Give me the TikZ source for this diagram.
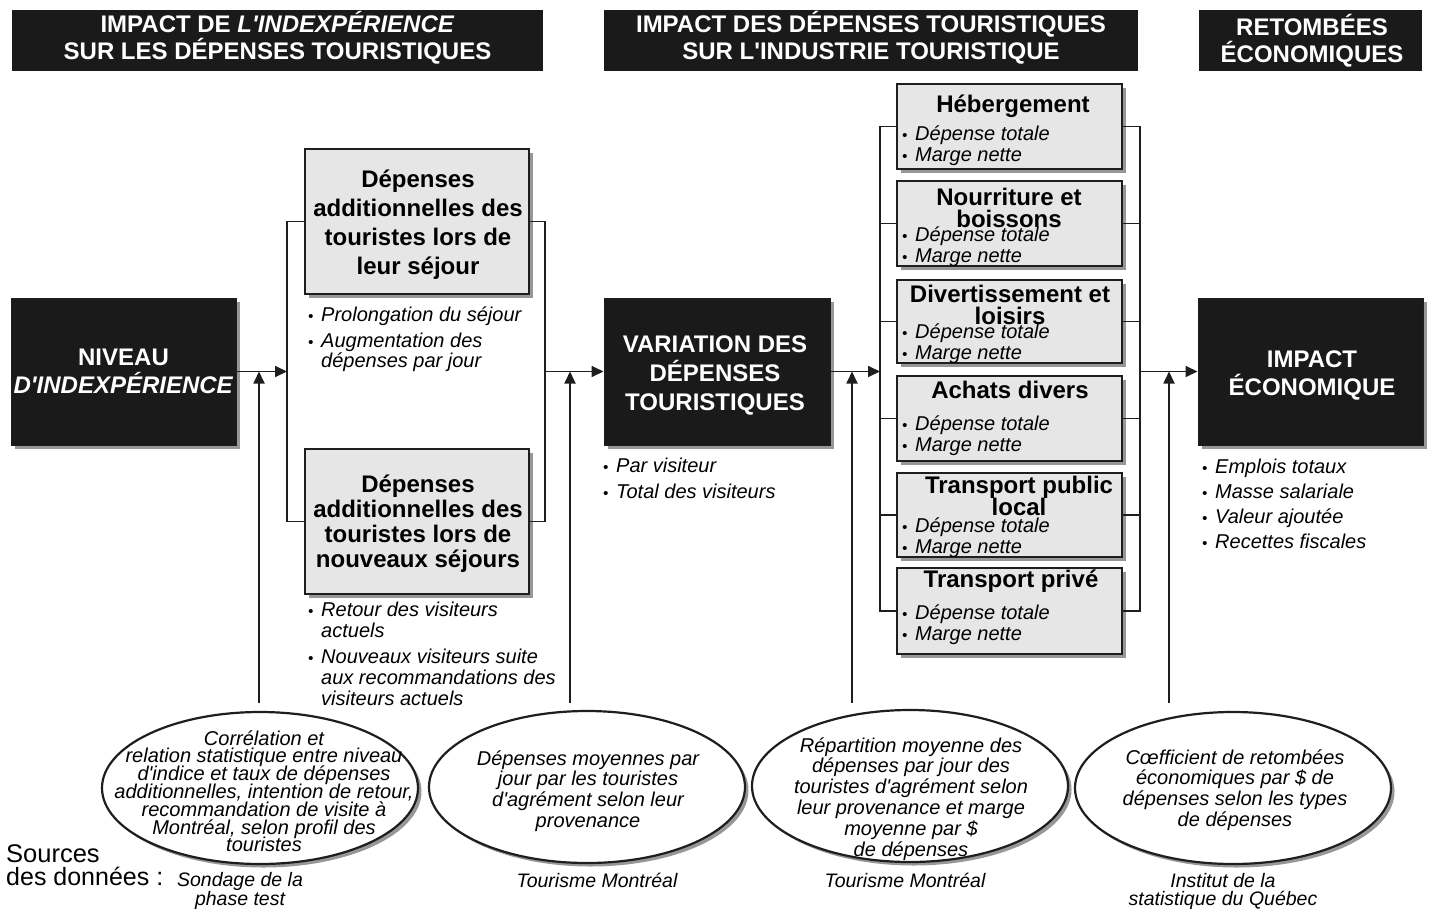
\documentclass[tikz,border=0pt]{standalone}
\usepackage{fontspec}
\setmainfont{Liberation Sans}[Ligatures=TeXOff]
\usetikzlibrary{arrows.meta,shapes.geometric,shadows}
\definecolor{boxblack}{HTML}{1A1A1A}
\definecolor{boxgrey}{HTML}{E6E6E6}
\definecolor{linec}{HTML}{1E1E1E}
\newcommand{\mkc}[1]{\vtop{\lineskiplimit=-100pt\relax\lineskip=0pt\relax\let\\\cr\halign{\hfil##\hfil\cr#1\crcr}}}
\newcommand{\mkl}[1]{\vtop{\lineskiplimit=-100pt\relax\lineskip=0pt\relax\let\\\cr\halign{##\hfil&##\hfil\cr#1\crcr}}}
\newcommand{\blt}{\makebox[13pt][l]{\fontsize{15}{15}\selectfont\textbullet}}
\tikzset{
  tb/.style={font=\fontsize{24}{#1}\selectfont\bfseries},
  th/.style={font=\fontsize{24}{#1}\selectfont\bfseries},
  ti/.style={font=\fontsize{20}{#1}\selectfont\itshape},
  ts/.style={font=\fontsize{19.5}{#1}\selectfont\itshape},
  shad/.style={drop shadow={shadow xshift=3.5pt,shadow yshift=-3.5pt,fill=black!45,opacity=0.9}},
  hdr/.style={fill=boxblack,draw=none,inner sep=0pt},
  blk/.style={fill=boxblack,draw=linec,line width=1pt,inner sep=0pt,shad},
  gry/.style={fill=boxgrey,draw=linec,line width=1.8pt,inner sep=0pt,shad},
  ell/.style={ellipse,fill=white,draw=linec,line width=2.2pt,inner sep=0pt,shad,minimum width=316pt,minimum height=152pt},
  wt/.style={text=white,inner sep=0pt},
  tx/.style={text=black,inner sep=0pt},
  conn/.style={draw=linec,line width=1.8pt},
  arr/.style={conn,-{Triangle[length=12pt,width=11pt]}}
}
\begin{document}
\begin{tikzpicture}[x=1pt,y=-1pt]
\useasboundingbox (0,0) rectangle (1431,910);
% headers
\node[hdr,minimum width=531pt,minimum height=61pt] (h1) at (277.5,40.5) {};
\node[hdr,minimum width=534pt,minimum height=61pt] (h2) at (871,40.5) {};
\node[hdr,minimum width=223pt,minimum height=61pt] (h3) at (1310.5,40.5) {};
\node[wt,th=27.5,anchor=base] (h1t) at (277.5,32) {\mkc{IMPACT DE \textit{L'INDEXPÉRIENCE}\\SUR LES DÉPENSES TOURISTIQUES}};
\node[wt,th=27.5,anchor=base] (h2t) at (871,32) {\mkc{IMPACT DES DÉPENSES TOURISTIQUES\\SUR L'INDUSTRIE TOURISTIQUE}};
\node[wt,th=27,anchor=base] (h3t) at (1312,35) {\mkc{RETOMBÉES\\ÉCONOMIQUES}};
% main black boxes
\node[blk,minimum width=225pt,minimum height=147pt] (niv) at (123.5,371.5) {};
\node[wt,tb=28,anchor=base] (nivt) at (123.5,365) {\mkc{NIVEAU\\\textit{D'INDEXPÉRIENCE}}};
\node[blk,minimum width=226pt,minimum height=147pt] (var) at (717,371.5) {};
\node[wt,tb=29,anchor=base] (vart) at (715,352) {\mkc{VARIATION DES\\DÉPENSES\\TOURISTIQUES}};
\node[blk,minimum width=225pt,minimum height=147pt] (imp) at (1310.5,371.5) {};
\node[wt,tb=28,anchor=base] (impt) at (1312,367) {\mkc{IMPACT\\ÉCONOMIQUE}};
% grey boxes (left)
\node[gry,minimum width=224pt,minimum height=145pt] (d1) at (417,221.5) {};
\node[tx,tb=29,anchor=base] (d1t) at (418,187) {\mkc{Dépenses\\additionnelles des\\touristes lors de\\leur séjour}};
\node[gry,minimum width=224pt,minimum height=145pt] (d2) at (417,521.5) {};
\node[tx,tb=25,anchor=base] (d2t) at (418,492) {\mkc{Dépenses\\additionnelles des\\touristes lors de\\nouveaux séjours}};
% bullets
\node[tx,ti=20,anchor=base west] (b1) at (308,321) {\mkl{\blt&Prolongation du séjour}};
\node[tx,ti=20,anchor=base west] (b2) at (308,347) {\mkl{\blt&Augmentation des\\&dépenses par jour}};
\node[tx,ti=21,anchor=base west] (b3) at (308,616) {\mkl{\blt&Retour des visiteurs\\&actuels}};
\node[tx,ti=21,anchor=base west] (b4) at (308,663) {\mkl{\blt&Nouveaux visiteurs suite\\&aux recommandations des\\&visiteurs actuels}};
\node[tx,ti=21,anchor=base west] (b5) at (603,472) {\mkl{\blt&Par visiteur}};
\node[tx,ti=21,anchor=base west] (b6) at (603,498) {\mkl{\blt&Total des visiteurs}};
\node[tx,ti=21,anchor=base west] (b7) at (1202,473) {\mkl{\blt&Emplois totaux}};
\node[tx,ti=21,anchor=base west] (b8) at (1202,498) {\mkl{\blt&Masse salariale}};
\node[tx,ti=21,anchor=base west] (b9) at (1202,523) {\mkl{\blt&Valeur ajoutée}};
\node[tx,ti=21,anchor=base west] (b10) at (1202,548) {\mkl{\blt&Recettes fiscales}};
% category boxes
\node[gry,minimum width=225pt,minimum height=85pt] (c1) at (1009.5,126.5) {};
\node[gry,minimum width=225pt,minimum height=85pt] (c2) at (1009.5,223.5) {};
\node[gry,minimum width=225pt,minimum height=83pt] (c3) at (1009.5,321.5) {};
\node[gry,minimum width=225pt,minimum height=85pt] (c4) at (1009.5,418.5) {};
\node[gry,minimum width=225pt,minimum height=84pt] (c5) at (1009.5,515) {};
\node[gry,minimum width=225pt,minimum height=86pt] (c6) at (1009.5,611) {};
\node[tx,tb=22,anchor=base] (c1t) at (1013,112) {\mkc{Hébergement}};
\node[tx,tb=22,anchor=base] (c2t) at (1009,205) {\mkc{Nourriture et\\boissons}};
\node[tx,tb=22,anchor=base] (c3t) at (1010,302) {\mkc{Divertissement et\\loisirs}};
\node[tx,tb=22,anchor=base] (c4t) at (1010,398) {\mkc{Achats divers}};
\node[tx,tb=22,anchor=base] (c5t) at (1019,493) {\mkc{Transport public\\local}};
\node[tx,tb=22,anchor=base] (c6t) at (1011,587) {\mkc{Transport privé}};
\node[tx,ti=21,anchor=base west] (c1b) at (902,140) {\mkl{\blt&Dépense totale\\\blt&Marge nette}};
\node[tx,ti=21,anchor=base west] (c2b) at (902,241) {\mkl{\blt&Dépense totale\\\blt&Marge nette}};
\node[tx,ti=21,anchor=base west] (c3b) at (902,338) {\mkl{\blt&Dépense totale\\\blt&Marge nette}};
\node[tx,ti=21,anchor=base west] (c4b) at (902,430) {\mkl{\blt&Dépense totale\\\blt&Marge nette}};
\node[tx,ti=21,anchor=base west] (c5b) at (902,532) {\mkl{\blt&Dépense totale\\\blt&Marge nette}};
\node[tx,ti=21,anchor=base west] (c6b) at (902,619) {\mkl{\blt&Dépense totale\\\blt&Marge nette}};
% ellipses
\node[ell] (e1) at (260,788) {};
\node[ell] (e2) at (587,787) {};
\node[ell] (e3) at (910,786) {};
\node[ell] (e4) at (1233,788) {};
\node[tx,ti=17.8,anchor=base] (e1t) at (264,745) {\mkc{Corrélation et\\relation statistique entre niveau\\d'indice et taux de dépenses\\additionnelles, intention de retour,\\recommandation de visite à\\Montréal, selon profil des\\touristes}};
\node[tx,ti=20.9,anchor=base] (e2t) at (588,765) {\mkc{Dépenses moyennes par\\jour par les touristes\\d'agrément selon leur\\provenance}};
\node[tx,ti=20.9,anchor=base] (e3t) at (911,752) {\mkc{Répartition moyenne des\\dépenses par jour des\\touristes d'agrément selon\\leur provenance et marge\\moyenne par \$\\de dépenses}};
\node[tx,ti=20.9,anchor=base] (e4t) at (1235,764) {\mkc{Cœfficient de retombées\\économiques par \$ de\\dépenses selon les types\\de dépenses}};
% sources
\node[tx,font=\fontsize{25.5}{24}\selectfont,anchor=base west] (srca) at (6,862) {Sources};
\node[tx,font=\fontsize{25}{24}\selectfont,anchor=base west] (srcb) at (6,885) {des données :};
\node[tx,ts=19,anchor=base] (s1) at (240,886) {\mkc{Sondage de la\\phase test}};
\node[tx,ts=19,anchor=base] (s2) at (597,887) {\mkc{Tourisme Montréal}};
\node[tx,ts=19,anchor=base] (s3) at (905,887) {\mkc{Tourisme Montréal}};
\node[tx,ts=18,anchor=base] (s4) at (1223,887) {\mkc{Institut de la\\statistique du Québec}};
% junctions and feet
\coordinate (j1) at (287,373);
\coordinate (j2) at (545,373);
\coordinate (j3) at (880,373);
\coordinate (j4) at (1140,373);
\coordinate (f1) at (259,703);
\coordinate (f2) at (570,703);
\coordinate (f3) at (852,703);
\coordinate (f4) at (1169,703);
% connectors
\draw[conn] (d1.west) -- (d1.west -| j1) -- (d2.west -| j1) -- (d2.west);
\draw[arr] (niv.east) -- (niv.east -| j1);
\draw[arr] (f1) -- (f1 |- niv.east);
\draw[conn] (d1.east) -- (d1.east -| j2) -- (d2.east -| j2) -- (d2.east);
\draw[arr] (var.west -| j2) -- (var.west);
\draw[arr] (f2) -- (f2 |- var.west);
\draw[conn] (c1.west) -- (c1.west -| j3) -- (c6.west -| j3) -- (c6.west);
\foreach \c in {c2,c3,c4,c5} \draw[conn] (\c.west -| j3) -- (\c.west);
\draw[arr] (var.east) -- (var.east -| j3);
\draw[arr] (f3) -- (f3 |- var.east);
\draw[conn] (c1.east) -- (c1.east -| j4) -- (c6.east -| j4) -- (c6.east);
\foreach \c in {c2,c3,c4,c5} \draw[conn] (\c.east) -- (\c.east -| j4);
\draw[arr] (imp.west -| j4) -- (imp.west);
\draw[arr] (f4) -- (f4 |- imp.west);
\end{tikzpicture}
\end{document}
